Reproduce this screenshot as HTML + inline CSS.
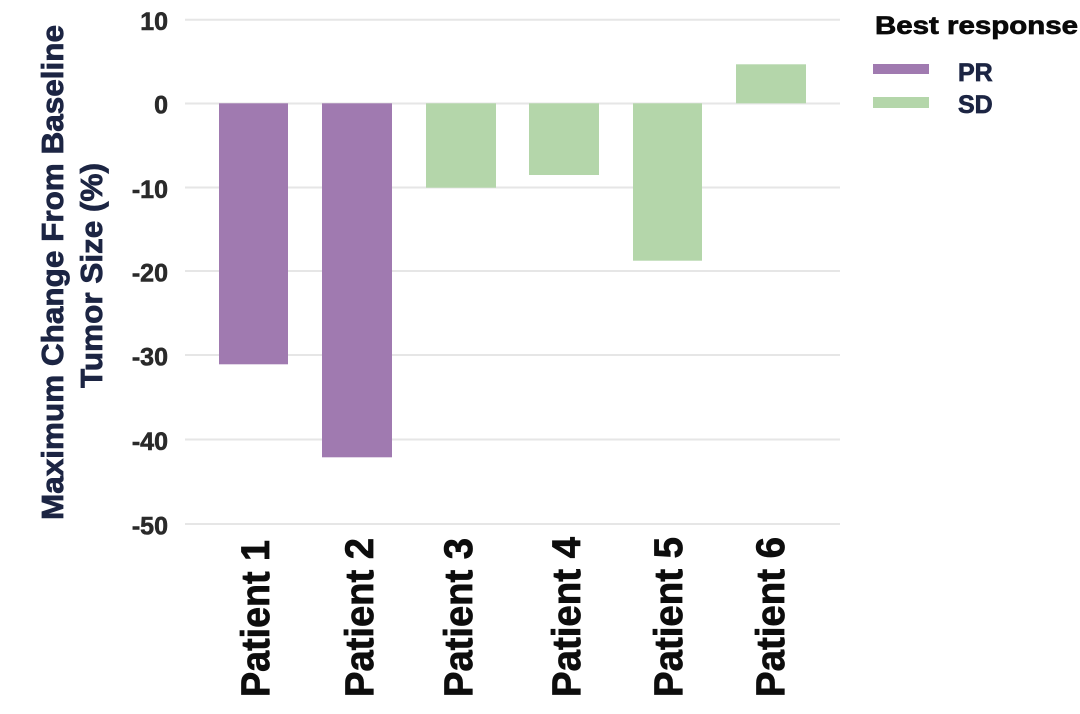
<!DOCTYPE html>
<html>
<head>
<meta charset="utf-8">
<style>
  html,body{margin:0;padding:0;background:#ffffff;}
  svg{display:block;}
  text{font-family:"Liberation Sans", Arial, Helvetica, sans-serif;font-weight:bold;}
</style>
</head>
<body>
<svg width="1080" height="714" viewBox="0 0 1080 714" xmlns="http://www.w3.org/2000/svg">
  <rect x="0" y="0" width="1080" height="714" fill="#ffffff"/>

  <!-- gridlines -->
  <g stroke="#e6e6e6" stroke-width="2">
    <line x1="185" y1="19.7" x2="840" y2="19.7"/>
    <line x1="185" y1="103.5" x2="840" y2="103.5"/>
    <line x1="185" y1="187.5" x2="840" y2="187.5"/>
    <line x1="185" y1="271" x2="840" y2="271"/>
    <line x1="185" y1="355" x2="840" y2="355"/>
    <line x1="185" y1="439.5" x2="840" y2="439.5"/>
    <line x1="185" y1="524" x2="840" y2="524"/>
  </g>

  <!-- y tick labels -->
  <g fill="#2a2a2a" stroke="#2a2a2a" stroke-width="0.6" font-size="25" text-anchor="end">
    <text x="168" y="30">10</text>
    <text x="168" y="113.5">0</text>
    <text x="168" y="198">-10</text>
    <text x="168" y="281.5">-20</text>
    <text x="168" y="365.5">-30</text>
    <text x="168" y="450">-40</text>
    <text x="168" y="534.5">-50</text>
  </g>

  <!-- bars -->
  <rect x="219" y="103.3" width="69" height="261" fill="#a07ab0"/>
  <rect x="322" y="103.3" width="70" height="354" fill="#a07ab0"/>
  <rect x="426" y="103.3" width="70" height="84.4" fill="#b4d6aa"/>
  <rect x="529" y="103.3" width="70" height="71.7" fill="#b4d6aa"/>
  <rect x="633" y="103.3" width="69" height="157.4" fill="#b4d6aa"/>
  <rect x="736" y="64.3" width="70" height="39" fill="#b4d6aa"/>

  <!-- x labels -->
  <g fill="#0d0d0d" stroke="#0d0d0d" stroke-width="0.8" font-size="40">
    <text transform="translate(269,697) rotate(-90)" textLength="157" lengthAdjust="spacingAndGlyphs">Patient 1</text>
    <text transform="translate(373,697) rotate(-90)" textLength="159" lengthAdjust="spacingAndGlyphs">Patient 2</text>
    <text transform="translate(472,697) rotate(-90)" textLength="159" lengthAdjust="spacingAndGlyphs">Patient 3</text>
    <text transform="translate(580,697) rotate(-90)" textLength="160" lengthAdjust="spacingAndGlyphs">Patient 4</text>
    <text transform="translate(682,697) rotate(-90)" textLength="160" lengthAdjust="spacingAndGlyphs">Patient 5</text>
    <text transform="translate(784,697) rotate(-90)" textLength="160" lengthAdjust="spacingAndGlyphs">Patient 6</text>
  </g>

  <!-- y axis title -->
  <g fill="#1c2543" stroke="#1c2543" stroke-width="0.8" font-size="31" text-anchor="middle">
    <text transform="translate(63,272.5) rotate(-90)" textLength="495" lengthAdjust="spacingAndGlyphs">Maximum Change From Baseline</text>
    <text transform="translate(102,275.5) rotate(-90)" textLength="225" lengthAdjust="spacingAndGlyphs">Tumor Size (%)</text>
  </g>

  <!-- legend -->
  <text x="875" y="34" fill="#0a0a0a" stroke="#0a0a0a" stroke-width="0.7" font-size="25" textLength="203" lengthAdjust="spacingAndGlyphs">Best response</text>
  <rect x="873" y="64" width="56" height="10" fill="#a07ab0"/>
  <rect x="873" y="97" width="56" height="11" fill="#b4d6aa"/>
  <text x="958" y="81" fill="#1c2543" stroke="#1c2543" stroke-width="0.7" font-size="25">PR</text>
  <text x="958" y="113" fill="#1c2543" stroke="#1c2543" stroke-width="0.7" font-size="25">SD</text>
</svg>
</body>
</html>
